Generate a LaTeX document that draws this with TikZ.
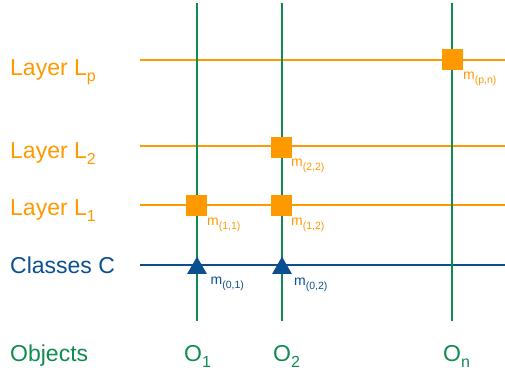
\documentclass[tikz,border=0pt]{standalone}
\usepackage{fontspec}
\setmainfont{Liberation Sans}
\usetikzlibrary{shapes.geometric}
\definecolor{lorange}{RGB}{255,153,0}
\definecolor{lgreen}{RGB}{16,140,80}
\definecolor{lblue}{RGB}{10,80,145}
\newcommand{\bigsub}[1]{\raisebox{-6pt}{\fontsize{16}{16}\selectfont #1}}
\newcommand{\msub}[1]{\raisebox{-4pt}{\fontsize{10.5}{10.5}\selectfont #1}}
\begin{document}
\begin{tikzpicture}[x=1pt,y=-1pt,
 lbl/.style={anchor=base west, inner sep=0pt, font=\fontsize{23}{26}\selectfont},
 mlbl/.style={anchor=base west, inner sep=0pt, font=\fontsize{14}{16}\selectfont},
 hline/.style={line width=2pt},
 vline/.style={draw=lgreen, line width=2pt},
 sq/.style={fill=lorange, minimum size=21pt, inner sep=0pt},
 tri/.style={fill=lblue, regular polygon, regular polygon sides=3, minimum size=23pt, inner sep=0pt},
]
\useasboundingbox (0,0) rectangle (505,371);
% horizontal lines
\coordinate (Lp-w) at (140,60);  \coordinate (Lp-e) at (505,60);
\coordinate (L2-w) at (140,146.5); \coordinate (L2-e) at (505,146.5);
\coordinate (L1-w) at (140,205); \coordinate (L1-e) at (505,205);
\coordinate (C-w) at (140,264.5); \coordinate (C-e) at (505,264.5);
\draw[hline, lorange] (Lp-w) -- (Lp-e);
\draw[hline, lorange] (L2-w) -- (L2-e);
\draw[hline, lorange] (L1-w) -- (L1-e);
\draw[hline, lblue] (C-w) -- (C-e);
% vertical lines
\coordinate (O1-t) at (197,3); \coordinate (O1-b) at (197,320.5);
\coordinate (O2-t) at (282,3); \coordinate (O2-b) at (282,320.5);
\coordinate (On-t) at (452,3); \coordinate (On-b) at (452,320.5);
\draw[vline] (O1-t) -- (O1-b);
\draw[vline] (O2-t) -- (O2-b);
\draw[vline] (On-t) -- (On-b);
% markers
\node[sq] (s11) at (196.5,205.5) {};
\node[sq] (s12) at (281,205.5) {};
\node[sq] (s22) at (281,147.5) {};
\node[sq] (spn) at (452.5,59.5) {};
\node[tri] (t01) at (197,268.2) {};
\node[tri] (t02) at (282,268.2) {};
% marker labels
\node[mlbl, text=lorange] (m11) at (207,225) {m\msub{(1,1)}};
\node[mlbl, text=lorange] (m12) at (291,225.5) {m\msub{(1,2)}};
\node[mlbl, text=lorange] (m22) at (291,167) {m\msub{(2,2)}};
\node[mlbl, text=lorange] (mpn) at (463,80) {m\msub{(p,n)}};
\node[mlbl, text=lblue] (m01) at (210.5,284) {m\msub{(0,1)}};
\node[mlbl, text=lblue] (m02) at (294,285) {m\msub{(0,2)}};
% row labels
\node[lbl, text=lorange] (lp) at (10,75.5) {Layer L\bigsub{p}};
\node[lbl, text=lorange] (l2) at (10,159) {Layer L\bigsub{2}};
\node[lbl, text=lorange] (l1) at (10,215) {Layer L\bigsub{1}};
\node[lbl, text=lblue] (cc) at (10,273.5) {Classes C};
\node[lbl, text=lgreen] (obj) at (10,361) {Objects};
\node[lbl, text=lgreen] (o1) at (184,361) {O\bigsub{1}};
\node[lbl, text=lgreen] (o2) at (273,361) {O\bigsub{2}};
\node[lbl, text=lgreen] (on) at (443,361) {O\bigsub{n}};
\end{tikzpicture}
\end{document}
